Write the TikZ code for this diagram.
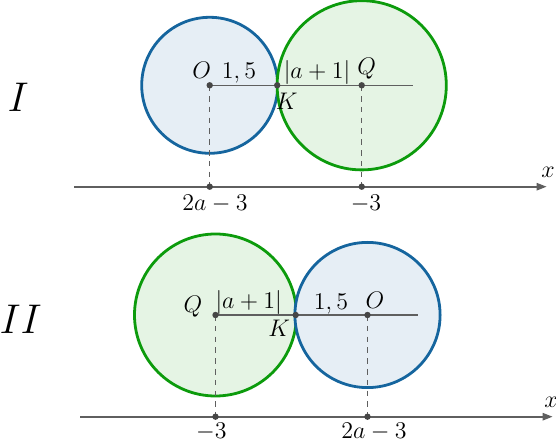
\documentclass[tikz,border=0pt]{standalone}
\usetikzlibrary{arrows.meta}
\definecolor{cblue}{RGB}{21,101,158}
\definecolor{cbluefill}{RGB}{230,238,245}
\definecolor{cgreen}{RGB}{12,155,12}
\definecolor{cgreenfill}{RGB}{229,244,228}
\definecolor{cline}{RGB}{95,95,95}
\definecolor{cpt}{RGB}{70,70,70}
\begin{document}
\begin{tikzpicture}[x=0.5pt,y=-0.5pt,
  bluecirc/.style={draw=cblue,fill=cbluefill,line width=1.4pt},
  greencirc/.style={draw=cgreen,fill=cgreenfill,line width=1.4pt},
  axisline/.style={draw=cline,line width=0.9pt,-{Triangle[length=5pt,width=3.6pt]}},
  radline/.style={draw=cline,line width=0.55pt},
  dashline/.style={draw=cline,line width=0.55pt,dash pattern=on 2.8pt off 2.6pt},
  pt/.style={circle,fill=cpt,inner sep=0pt,minimum size=3.2pt},
  lbl/.style={anchor=base,inner sep=0pt,font=\fontsize{11.5}{13.5}\selectfont},
  big/.style={anchor=base,inner sep=0pt,font=\fontsize{21}{25}\selectfont}]
\useasboundingbox (0,0) rectangle (556,442);
% ---------- Part I ----------
\coordinate (O1) at (209.7,85.3);
\coordinate (Q1) at (361.7,85.3);
\coordinate (K1) at (277.2,85.3);
\coordinate (E1) at (412.7,85.3);
\coordinate (A1) at (209.7,186.7);
\coordinate (B1) at (361.7,186.7);
\coordinate (L1) at (74.3,186.7);
\coordinate (R1) at (546.7,186.7);
\path[bluecirc] (O1) circle[radius=34pt];
\path[greencirc] (Q1) circle[radius=42.3pt];
\path[axisline] (L1) -- (R1);
\path[radline] (O1) -- (E1);
\path[dashline] (O1) -- (A1);
\path[dashline] (Q1) -- (B1);
\node[pt] (pO1) at (O1) {};
\node[pt] (pQ1) at (Q1) {};
\node[pt] (pK1) at (K1) {};
\node[pt] (pA1) at (A1) {};
\node[pt] (pB1) at (B1) {};
\node[lbl] (tO1) at (201.7,78.3) {$O$};
\node[lbl] (t15a) at (239,78.8) {$1,5$};
\node[lbl] (tab1) at (317,78.3) {$|a+1|$};
\node[lbl] (tQ1) at (366.7,74.5) {$Q$};
\node[lbl] (tK1) at (286.7,110) {$K$};
\node[lbl] (tA1) at (215,210.7) {$2a-3$};
\node[lbl] (tB1) at (366,210.7) {$-3$};
\node[lbl] (tx1) at (548,178) {$x$};
\node[big] (tI) at (18.3,111.7) {$I$};
% ---------- Part II ----------
\coordinate (Q2) at (215.5,315);
\coordinate (O2) at (367.5,315);
\coordinate (K2) at (295.7,315);
\coordinate (E2) at (417.7,315);
\coordinate (A2) at (215.5,416.7);
\coordinate (B2) at (367.5,416.7);
\coordinate (L2) at (80,416.7);
\coordinate (R2) at (552.7,416.7);
\path[greencirc] (Q2) circle[radius=40.5pt];
\path[bluecirc] (O2) circle[radius=36.3pt];
\path[axisline] (L2) -- (R2);
\path[radline] (Q2) -- (E2);
\path[dashline] (Q2) -- (A2);
\path[dashline] (O2) -- (B2);
\node[pt] (pQ2) at (Q2) {};
\node[pt] (pO2) at (O2) {};
\node[pt] (pK2) at (K2) {};
\node[pt] (pA2) at (A2) {};
\node[pt] (pB2) at (B2) {};
\node[lbl] (tQ2) at (193,313) {$Q$};
\node[lbl] (tab2) at (248.7,309) {$|a+1|$};
\node[lbl] (t15b) at (331,310) {$1,5$};
\node[lbl] (tO2) at (375,309) {$O$};
\node[lbl] (tK2) at (279.3,336.7) {$K$};
\node[lbl] (tA2) at (211.3,438.5) {$-3$};
\node[lbl] (tB2) at (374,438.5) {$2a-3$};
\node[lbl] (tx2) at (551,407.7) {$x$};
\node[big] (tII) at (20.7,333.3) {$II$};
\end{tikzpicture}
\end{document}
